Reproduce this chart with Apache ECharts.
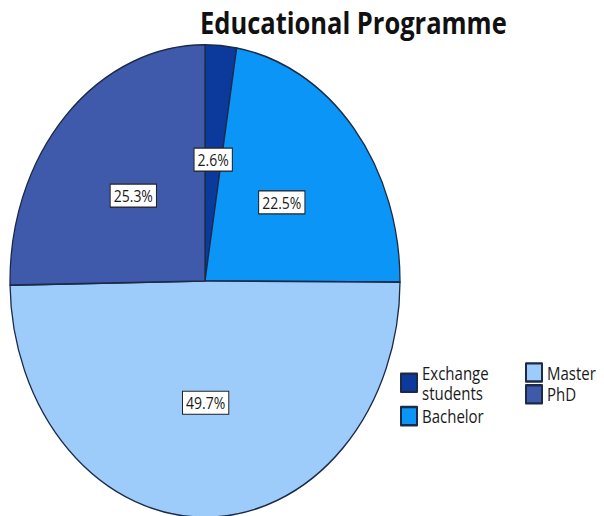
<!DOCTYPE html>
<html><head><meta charset="utf-8">
<script src="https://cdn.jsdelivr.net/npm/echarts@6/dist/echarts.min.js"></script>
<style>
html,body{margin:0;padding:0;background:#fff;overflow:hidden}
#wrap{width:604px;height:516px;overflow:hidden}
#c{width:604px;height:426px;transform:scaleY(1.2113);transform-origin:0 0}
</style></head><body><div id="wrap"><div id="c"></div></div>
<script>
const titleText = 'Educational Programme';
const categories = ['Exchange students', 'Bachelor', 'Master', 'PhD'];
const legendNames = {'Exchange students': 'Exchange\nstudents'};
const values = [2.6, 22.5, 49.7, 25.3];
const colors = ['#0c3a9c', '#0b95f6', '#9dccfb', '#3f5aaa'];

const chart = echarts.init(document.getElementById('c'), null, {renderer: 'svg'});
const legendCommon = {
  orient: 'vertical', itemWidth: 16, itemHeight: 15, padding: 0,
  icon: 'rect',
  formatter: n => legendNames[n] || n,
  textStyle: {fontFamily: 'Open Sans', fontSize: 15, color: '#1a1a1a', lineHeight: 16}
};
chart.setOption({
  animation: false,
  color: colors,
  title: {
    text: titleText, left: 195, top: 0,
    textStyle: {fontFamily: 'Open Sans', fontWeight: 'bold', fontSize: 25.5, color: '#111'}
  },
  legend: [
    Object.assign({left: 400, top: 300, itemGap: 3, data: categories.slice(0, 2)}, legendCommon),
    Object.assign({left: 525, top: 299, itemGap: 1, data: categories.slice(2)}, legendCommon)
  ],
  series: [{
    type: 'pie',
    center: [205, 232],
    radius: 195,
    startAngle: 90,
    clockwise: true,
    label: {
      show: true, position: 'inside',
      formatter: p => p.value.toFixed(1) + '%',
      fontFamily: 'Open Sans', fontSize: 14, color: '#1a1a1a',
      backgroundColor: '#fff', borderColor: '#222', borderWidth: 1,
      padding: [2, 3]
    },
    labelLine: {show: false},
    itemStyle: {borderColor: '#1b2a48', borderWidth: 1.3},
    emphasis: {disabled: true},
    data: categories.map((n, i) => ({name: n, value: values[i]}))
  }]
});
</script></body></html>
